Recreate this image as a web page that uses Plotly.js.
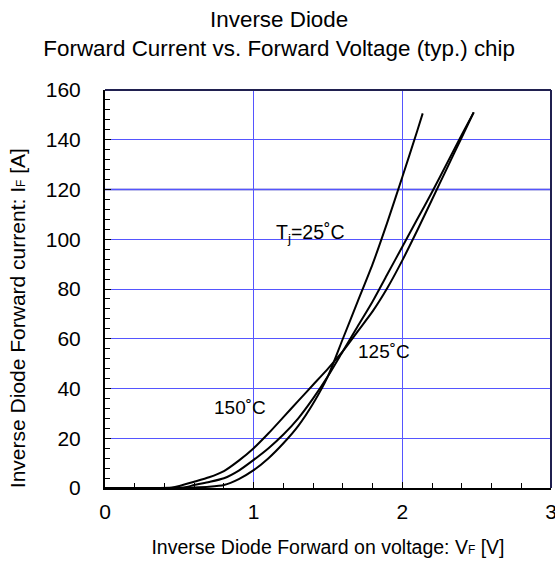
<!DOCTYPE html>
<html>
<head>
<meta charset="utf-8">
<script src="https://cdn.plot.ly/plotly-3.0.1.min.js"></script>
<style>html,body{margin:0;padding:0;background:#fff;}#chart{width:555px;height:570px;}</style>
</head>
<body>
<div id="chart"></div>
<script>
// Tj = 25 °C
var v25 = [0, 0.3, 0.5, 0.6, 0.7, 0.8, 0.9, 1.0, 1.1, 1.2, 1.3, 1.4, 1.5, 1.6, 1.7, 1.8, 1.9, 2.0, 2.1, 2.137];
var i25 = [0, 0, 0, 0.2, 0.5, 1.2, 3.6, 7.2, 12, 18, 25, 34, 45, 60, 75, 90, 107, 125, 143.5, 150.6];
// Tj = 125 °C
var v125 = [0, 0.3, 0.5, 0.55, 0.6, 0.7, 0.8, 0.9, 1.0, 1.1, 1.2, 1.3, 1.4, 1.5, 1.6, 1.7, 1.8, 1.9, 2.0, 2.1, 2.2, 2.3, 2.4, 2.48];
var i125 = [0, 0, 0.1, 0.4, 1.2, 2.4, 3.9, 7, 11.3, 16, 21.5, 28, 36, 45, 55, 65, 75, 86, 97, 108, 119, 130.5, 142, 151];
// Tj = 150 °C
var v150 = [0, 0.3, 0.45, 0.5, 0.6, 0.7, 0.8, 0.9, 1.0, 1.1, 1.2, 1.3, 1.4, 1.5, 1.6, 1.7, 1.8, 1.9, 2.0, 2.1, 2.2, 2.3, 2.4, 2.48];
var i150 = [0, 0, 0.2, 0.8, 2.5, 4.3, 6.8, 11, 16, 22, 28.5, 35, 41.5, 48, 55, 63, 71, 80.5, 91.5, 103.5, 116, 128.5, 141, 151];

var xTicks = [0, 1, 2, 3];
var yTicks = [0, 20, 40, 60, 80, 100, 120, 140, 160];

var font = 'Liberation Sans, Arial, sans-serif';
var lineStyle = {color: '#000', width: 2, shape: 'spline', smoothing: 0.6};

var traces = [
  {x: v25, y: i25, mode: 'lines', line: lineStyle, name: '25', hoverinfo: 'none'},
  {x: v125, y: i125, mode: 'lines', line: lineStyle, name: '125', hoverinfo: 'none'},
  {x: v150, y: i150, mode: 'lines', line: lineStyle, name: '150', hoverinfo: 'none'}
];

var pad = '&nbsp;&nbsp;&nbsp;&nbsp;&nbsp;&nbsp;&nbsp;&nbsp;&nbsp;&nbsp;';

var layout = {
  width: 555, height: 570,
  margin: {l: 105, r: 4, t: 90, b: 82},
  paper_bgcolor: '#fff', plot_bgcolor: '#fff',
  showlegend: false,
  font: {family: font, size: 20, color: '#000'},
  title: {
    text: 'Inverse Diode<br>Forward Current vs. Forward Voltage (typ.) chip',
    x: 0.503, xanchor: 'center', yref: 'container', y: 0.953, yanchor: 'middle',
    font: {family: font, size: 22.4, color: '#000'}
  },
  xaxis: {
    range: [0, 3], tickvals: xTicks, ticktext: xTicks.map(String),
    showgrid: true, gridcolor: '#5555ff', gridwidth: 1,
    zeroline: false, showline: true, linecolor: '#000', linewidth: 2,
    ticks: 'inside', ticklen: 6, tickcolor: '#000', tickwidth: 1,
    ticklabeloverflow: 'allow', ticklabelstandoff: 4,
    minor: {tickmode: 'linear', tick0: 0, dtick: 0.2, ticks: 'inside', ticklen: 5, tickcolor: '#000', tickwidth: 1, showgrid: false},
    tickfont: {family: font, size: 21, color: '#000'},
    title: {text: 'Inverse Diode Forward on voltage: V<span style="font-size:12px">F</span> [V]', standoff: 18,
            font: {family: font, size: 19.5, color: '#000'}},
    fixedrange: true
  },
  yaxis: {
    range: [0, 160], tickvals: yTicks, ticktext: yTicks.map(String),
    showgrid: true, gridcolor: '#5555ff', gridwidth: 1,
    zeroline: false, showline: true, linecolor: '#000', linewidth: 2,
    ticks: 'inside', ticklen: 6, tickcolor: '#000', tickwidth: 1,
    ticklabelstandoff: 18,
    minor: {tickmode: 'linear', tick0: 0, dtick: 4, ticks: 'inside', ticklen: 5, tickcolor: '#000', tickwidth: 1, showgrid: false},
    tickfont: {family: font, size: 21, color: '#000'},
    title: {text: 'Inverse Diode Forward current: I<span style="font-size:12px">F</span> [A]' + pad, standoff: 14,
            font: {family: font, size: 21, color: '#000'}},
    fixedrange: true
  },
  shapes: [
    {type: 'line', xref: 'paper', yref: 'paper', x0: 0, x1: 1, y0: 1, y1: 1, line: {color: '#202050', width: 2}},
    {type: 'line', xref: 'paper', yref: 'paper', x0: 1, x1: 1, y0: 0, y1: 1, line: {color: '#202050', width: 2}},
    {type: 'line', xref: 'paper', yref: 'y', x0: 0, x1: 1, y0: 120, y1: 120, layer: 'between', line: {color: '#0000b0', width: 1.5}}
  ],
  annotations: [
    {x: 1.14, y: 102.5, xref: 'x', yref: 'y', text: 'T<sub>j</sub>=25˚C', showarrow: false, xanchor: 'left', yanchor: 'middle', font: {family: font, size: 19.5, color: '#000'}},
    {x: 1.69, y: 55, xref: 'x', yref: 'y', text: '125˚C', showarrow: false, xanchor: 'left', yanchor: 'middle', font: {family: font, size: 19, color: '#000'}},
    {x: 0.72, y: 32.5, xref: 'x', yref: 'y', text: '150˚C', showarrow: false, xanchor: 'left', yanchor: 'middle', font: {family: font, size: 19, color: '#000'}}
  ]
};

Plotly.newPlot('chart', traces, layout, {displayModeBar: false, staticPlot: true});
</script>
</body>
</html>
